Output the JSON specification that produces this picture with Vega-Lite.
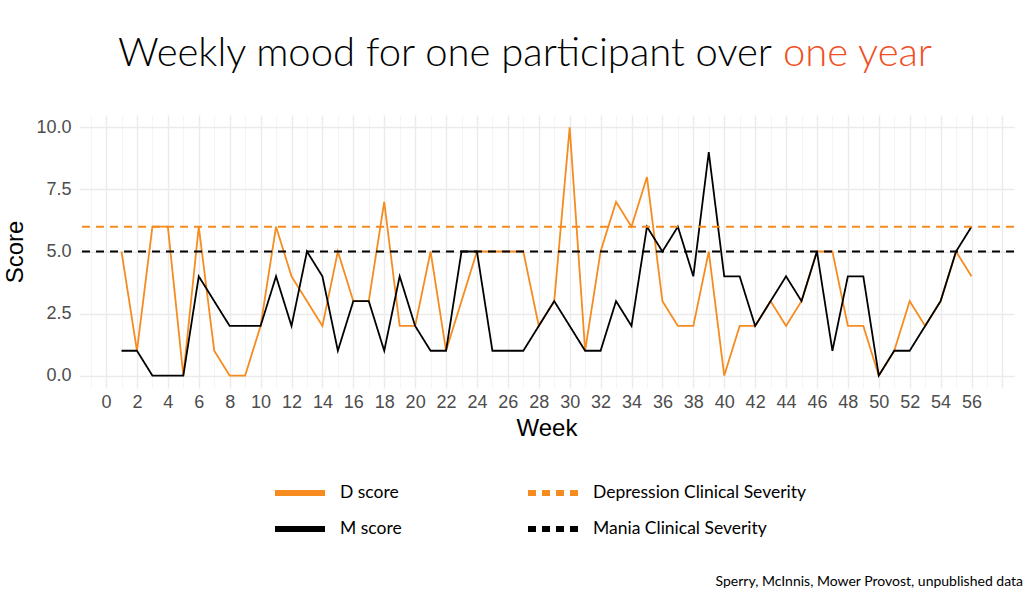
{
  "$schema": "https://vega.github.io/schema/vega-lite/v6.json",
  "background": "white",
  "padding": {"left": 3, "top": 34, "right": 0, "bottom": 0},
  "config": {
    "view": {"stroke": null},
    "concat": {"spacing": 0}
  },
  "title": {
    "text": "Sperry, McInnis, Mower Provost, unpublished data",
    "orient": "bottom", "anchor": "end", "frame": "group",
    "font": "Lato", "fontSize": 14, "fontWeight": "normal", "color": "#000000",
    "offset": 34, "dx": 9
  },
  "vconcat": [
    {
      "title": {
        "text": "Weekly mood for one participant over",
        "anchor": "start", "frame": "group", "align": "right",
        "font": "Lato", "fontWeight": 300, "fontSize": 40, "color": "#000000",
        "offset": 0, "dx": 693, "dy": 40
      },
      "vconcat": [
        {
          "title": {
            "text": "one year",
            "anchor": "start", "frame": "group", "align": "left",
            "font": "Lato", "fontWeight": 300, "fontSize": 40, "color": "#EF4F24",
            "offset": 41, "dx": 704
          },
          "width": 935,
          "height": 273,
          "layer": [
            {
              "data": {"values": [
                {"week": 1, "series": "D score", "score": 5},
                {"week": 2, "series": "D score", "score": 1},
                {"week": 3, "series": "D score", "score": 6},
                {"week": 4, "series": "D score", "score": 6},
                {"week": 5, "series": "D score", "score": 0},
                {"week": 6, "series": "D score", "score": 6},
                {"week": 7, "series": "D score", "score": 1},
                {"week": 8, "series": "D score", "score": 0},
                {"week": 9, "series": "D score", "score": 0},
                {"week": 10, "series": "D score", "score": 2},
                {"week": 11, "series": "D score", "score": 6},
                {"week": 12, "series": "D score", "score": 4},
                {"week": 13, "series": "D score", "score": 3},
                {"week": 14, "series": "D score", "score": 2},
                {"week": 15, "series": "D score", "score": 5},
                {"week": 16, "series": "D score", "score": 3},
                {"week": 17, "series": "D score", "score": 3},
                {"week": 18, "series": "D score", "score": 7},
                {"week": 19, "series": "D score", "score": 2},
                {"week": 20, "series": "D score", "score": 2},
                {"week": 21, "series": "D score", "score": 5},
                {"week": 22, "series": "D score", "score": 1},
                {"week": 23, "series": "D score", "score": 3},
                {"week": 24, "series": "D score", "score": 5},
                {"week": 25, "series": "D score", "score": 5},
                {"week": 26, "series": "D score", "score": 5},
                {"week": 27, "series": "D score", "score": 5},
                {"week": 28, "series": "D score", "score": 2},
                {"week": 29, "series": "D score", "score": 3},
                {"week": 30, "series": "D score", "score": 10},
                {"week": 31, "series": "D score", "score": 1},
                {"week": 32, "series": "D score", "score": 5},
                {"week": 33, "series": "D score", "score": 7},
                {"week": 34, "series": "D score", "score": 6},
                {"week": 35, "series": "D score", "score": 8},
                {"week": 36, "series": "D score", "score": 3},
                {"week": 37, "series": "D score", "score": 2},
                {"week": 38, "series": "D score", "score": 2},
                {"week": 39, "series": "D score", "score": 5},
                {"week": 40, "series": "D score", "score": 0},
                {"week": 41, "series": "D score", "score": 2},
                {"week": 42, "series": "D score", "score": 2},
                {"week": 43, "series": "D score", "score": 3},
                {"week": 44, "series": "D score", "score": 2},
                {"week": 45, "series": "D score", "score": 3},
                {"week": 46, "series": "D score", "score": 5},
                {"week": 47, "series": "D score", "score": 5},
                {"week": 48, "series": "D score", "score": 2},
                {"week": 49, "series": "D score", "score": 2},
                {"week": 50, "series": "D score", "score": 0},
                {"week": 51, "series": "D score", "score": 1},
                {"week": 52, "series": "D score", "score": 3},
                {"week": 53, "series": "D score", "score": 2},
                {"week": 54, "series": "D score", "score": 3},
                {"week": 55, "series": "D score", "score": 5},
                {"week": 56, "series": "D score", "score": 4},
                {"week": 1, "series": "M score", "score": 1},
                {"week": 2, "series": "M score", "score": 1},
                {"week": 3, "series": "M score", "score": 0},
                {"week": 4, "series": "M score", "score": 0},
                {"week": 5, "series": "M score", "score": 0},
                {"week": 6, "series": "M score", "score": 4},
                {"week": 7, "series": "M score", "score": 3},
                {"week": 8, "series": "M score", "score": 2},
                {"week": 9, "series": "M score", "score": 2},
                {"week": 10, "series": "M score", "score": 2},
                {"week": 11, "series": "M score", "score": 4},
                {"week": 12, "series": "M score", "score": 2},
                {"week": 13, "series": "M score", "score": 5},
                {"week": 14, "series": "M score", "score": 4},
                {"week": 15, "series": "M score", "score": 1},
                {"week": 16, "series": "M score", "score": 3},
                {"week": 17, "series": "M score", "score": 3},
                {"week": 18, "series": "M score", "score": 1},
                {"week": 19, "series": "M score", "score": 4},
                {"week": 20, "series": "M score", "score": 2},
                {"week": 21, "series": "M score", "score": 1},
                {"week": 22, "series": "M score", "score": 1},
                {"week": 23, "series": "M score", "score": 5},
                {"week": 24, "series": "M score", "score": 5},
                {"week": 25, "series": "M score", "score": 1},
                {"week": 26, "series": "M score", "score": 1},
                {"week": 27, "series": "M score", "score": 1},
                {"week": 28, "series": "M score", "score": 2},
                {"week": 29, "series": "M score", "score": 3},
                {"week": 30, "series": "M score", "score": 2},
                {"week": 31, "series": "M score", "score": 1},
                {"week": 32, "series": "M score", "score": 1},
                {"week": 33, "series": "M score", "score": 3},
                {"week": 34, "series": "M score", "score": 2},
                {"week": 35, "series": "M score", "score": 6},
                {"week": 36, "series": "M score", "score": 5},
                {"week": 37, "series": "M score", "score": 6},
                {"week": 38, "series": "M score", "score": 4},
                {"week": 39, "series": "M score", "score": 9},
                {"week": 40, "series": "M score", "score": 4},
                {"week": 41, "series": "M score", "score": 4},
                {"week": 42, "series": "M score", "score": 2},
                {"week": 43, "series": "M score", "score": 3},
                {"week": 44, "series": "M score", "score": 4},
                {"week": 45, "series": "M score", "score": 3},
                {"week": 46, "series": "M score", "score": 5},
                {"week": 47, "series": "M score", "score": 1},
                {"week": 48, "series": "M score", "score": 4},
                {"week": 49, "series": "M score", "score": 4},
                {"week": 50, "series": "M score", "score": 0},
                {"week": 51, "series": "M score", "score": 1},
                {"week": 52, "series": "M score", "score": 1},
                {"week": 53, "series": "M score", "score": 2},
                {"week": 54, "series": "M score", "score": 3},
                {"week": 55, "series": "M score", "score": 5},
                {"week": 56, "series": "M score", "score": 6}
              ]},
              "mark": {"type": "line", "strokeWidth": 1.8, "clip": true},
              "encoding": {
                "x": {
                  "field": "week", "type": "quantitative",
                  "scale": {"domain": [-1.75, 58.75], "nice": false, "zero": false},
                  "axis": {
                    "values": [-1,0,1,2,3,4,5,6,7,8,9,10,11,12,13,14,15,16,17,18,19,20,21,22,23,24,25,26,27,28,29,30,31,32,33,34,35,36,37,38,39,40,41,42,43,44,45,46,47,48,49,50,51,52,53,54,55,56,57,58],
                    "labelExpr": "(datum.value % 2 === 0 && datum.value >= 0 && datum.value <= 56) ? datum.label : ''",
                    "format": "d",
                    "grid": true,
                    "gridColor": {"condition": {"test": "datum.value % 2 === 0", "value": "#EBEBEB"}, "value": "#F3F3F3"},
                    "gridWidth": {"condition": {"test": "datum.value % 2 === 0", "value": 1.4}, "value": 0.8},
                    "ticks": false, "domain": false,
                    "labelOverlap": false, "labelFlush": false, "labelAngle": 0,
                    "labelFont": "Liberation Sans", "labelFontSize": 18, "labelColor": "#4D4D4D", "labelPadding": 5,
                    "title": "Week", "titleFont": "Liberation Sans", "titleFontSize": 24, "titleFontWeight": "normal",
                    "titleColor": "#000000", "titlePadding": 5
                  }
                },
                "y": {
                  "field": "score", "type": "quantitative",
                  "scale": {"domain": [-0.5, 10.5], "nice": false, "zero": false},
                  "axis": {
                    "values": [0, 1.25, 2.5, 3.75, 5, 6.25, 7.5, 8.75, 10],
                    "labelExpr": "datum.value % 2.5 === 0 ? format(datum.value, '.1f') : ''",
                    "grid": true,
                    "gridColor": {"condition": {"test": "datum.value % 2.5 === 0", "value": "#EBEBEB"}, "value": "#F3F3F3"},
                    "gridWidth": {"condition": {"test": "datum.value % 2.5 === 0", "value": 1.4}, "value": 0.8},
                    "ticks": false, "domain": false, "labelOverlap": false, "labelFlush": false,
                    "labelFont": "Liberation Sans", "labelFontSize": 18, "labelColor": "#4D4D4D", "labelPadding": 8,
                    "title": "Score", "titleFont": "Liberation Sans", "titleFontSize": 24, "titleFontWeight": "normal",
                    "titleColor": "#000000", "titlePadding": 8
                  }
                },
                "color": {
                  "field": "series", "type": "nominal",
                  "scale": {
                    "domain": ["D score", "Depression Clinical Severity", "M score", "Mania Clinical Severity"],
                    "range": ["#F68B1F", "#F68B1F", "#000000", "#000000"]
                  },
                  "legend": {
                    "title": null, "orient": "none", "legendX": 208, "legendY": 365,
                    "direction": "horizontal", "columns": 2,
                    "symbolType": "M-2.5,0H2.5", "symbolSize": 400, "symbolStrokeWidth": 6,
                    "labelFont": "Lato", "labelFontSize": 17.5, "labelColor": "#000000", "labelOffset": 27, "labelLimit": 400,
                    "columnPadding": 114, "rowPadding": 11,
                    "encode": {"symbols": {"update": {"strokeWidth": {"value": 6}}}}
                  }
                },
                "strokeDash": {
                  "field": "series", "type": "nominal",
                  "scale": {
                    "domain": ["D score", "Depression Clinical Severity", "M score", "Mania Clinical Severity"],
                    "range": [[1, 0], [8, 6], [1, 0], [8, 6]]
                  },
                  "legend": {
                    "title": null, "orient": "none", "legendX": 208, "legendY": 365,
                    "direction": "horizontal", "columns": 2,
                    "symbolType": "M-2.5,0H2.5", "symbolSize": 400, "symbolStrokeWidth": 6,
                    "labelFont": "Lato", "labelFontSize": 17.5, "labelColor": "#000000", "labelOffset": 27, "labelLimit": 400,
                    "columnPadding": 114, "rowPadding": 11
                  }
                }
              }
            },
            {
              "data": {"values": [
                {"series": "Depression Clinical Severity", "score": 6},
                {"series": "Mania Clinical Severity", "score": 5}
              ]},
              "mark": {"type": "rule", "strokeWidth": 2},
              "encoding": {
                "y": {"field": "score", "type": "quantitative"},
                "color": {"field": "series", "type": "nominal"},
                "strokeDash": {"field": "series", "type": "nominal"}
              }
            }
          ]
        }
      ]
    }
  ]
}
